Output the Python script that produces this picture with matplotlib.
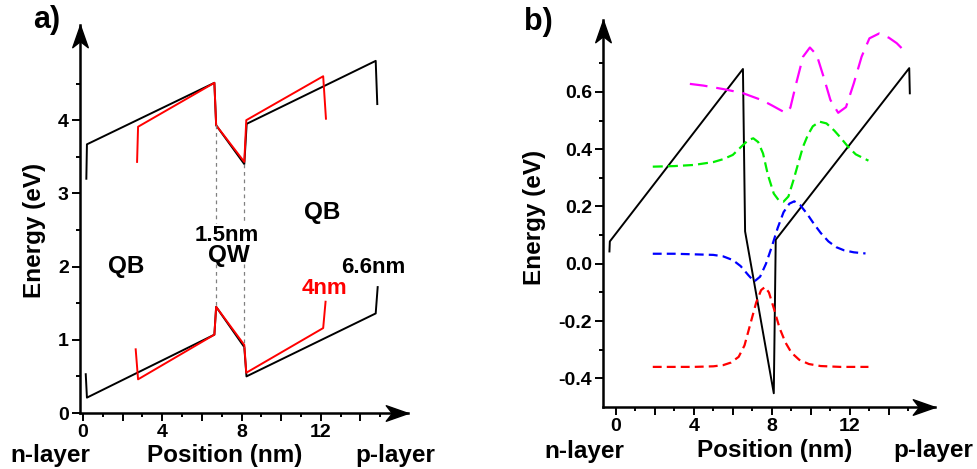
import matplotlib.pyplot as plt
from matplotlib.path import Path
from matplotlib.ticker import FixedLocator, FuncFormatter

plt.rcParams["font.family"] = ["Liberation Sans", "DejaVu Sans"]
plt.rcParams["font.weight"] = "bold"
plt.rcParams["axes.unicode_minus"] = False

# (a) band edges: 6.6 nm barriers (black) and 4 nm barriers (red)
cb_66_x = [0.17, 0.20, 6.63, 6.72, 8.14, 8.26, 14.77, 14.85]
cb_66_y = [3.20, 3.67, 4.51, 3.93, 3.40, 3.95, 4.81, 4.22]
vb_66_x = [0.14, 0.20, 6.63, 6.72, 8.14, 8.25, 14.77, 14.87]
vb_66_y = [0.53, 0.21, 1.07, 1.45, 0.90, 0.50, 1.36, 1.72]
cb_4_x = [2.73, 2.78, 6.63, 6.72, 8.14, 8.24, 12.12, 12.26]
cb_4_y = [3.43, 3.91, 4.51, 3.93, 3.43, 4.00, 4.60, 4.02]
vb_4_x = [2.66, 2.78, 6.63, 6.72, 8.14, 8.24, 12.12, 12.24]
vb_4_y = [0.87, 0.46, 1.07, 1.45, 0.93, 0.55, 1.16, 1.52]
qw_left, qw_right = 6.72, 8.14

# (b) conduction band profile and wavefunctions
band_x = [-0.32, -0.30, 6.52, 6.63, 8.10, 8.20, 15.04, 15.07]
band_y = [0.043, 0.078, 0.680, 0.113, -0.452, 0.084, 0.683, 0.595]

psi1_x = [1.9, 3.0, 4.0, 5.0, 5.5, 5.9, 6.3, 6.6, 6.9, 7.2, 7.45, 7.65,
          7.85, 8.1, 8.4, 8.7, 9.0, 9.4, 9.9, 10.5, 11.5, 12.95]
psi1_y = [-0.36, -0.36, -0.36, -0.358, -0.354, -0.345, -0.325, -0.285, -0.21,
          -0.135, -0.092, -0.081, -0.10, -0.155, -0.225, -0.275, -0.31, -0.335,
          -0.35, -0.357, -0.36, -0.36]

psi2_x = [1.9, 3.0, 4.0, 5.0, 5.5, 6.0, 6.4, 6.8, 7.1, 7.4, 7.7, 8.0, 8.3,
          8.6, 8.9, 9.15, 9.45, 9.8, 10.15, 10.5, 10.9, 11.3, 11.7, 12.2, 12.8]
psi2_y = [0.035, 0.035, 0.033, 0.031, 0.026, 0.013, -0.008, -0.040, -0.062,
          -0.045, 0.000, 0.060, 0.125, 0.180, 0.210, 0.218, 0.205, 0.175,
          0.140, 0.108, 0.078, 0.058, 0.047, 0.040, 0.036]

psi3_x = [1.9, 3.0, 4.0, 5.0, 5.5, 6.0, 6.5, 6.8, 7.05, 7.3, 7.55, 7.8, 8.1,
          8.35, 8.6, 8.85, 9.1, 9.35, 9.6, 9.85, 10.1, 10.45, 10.8, 11.2, 11.5,
          11.9, 12.3, 12.95]
psi3_y = [0.339, 0.341, 0.345, 0.355, 0.365, 0.380, 0.413, 0.432, 0.438, 0.425,
          0.385, 0.310, 0.245, 0.222, 0.217, 0.235, 0.290, 0.350, 0.409, 0.450,
          0.480, 0.496, 0.490, 0.465, 0.442, 0.409, 0.382, 0.360]

psi4_x = [3.8, 4.5, 5.5, 6.5, 7.5, 8.0, 8.4, 8.7, 8.95, 9.25, 9.6, 9.95, 10.3,
          10.65, 11.0, 11.4, 11.8, 12.2, 12.6, 13.0, 13.5, 14.0, 14.4, 14.75]
psi4_y = [0.628, 0.622, 0.610, 0.596, 0.571, 0.553, 0.538, 0.527, 0.545, 0.630,
          0.723, 0.755, 0.729, 0.653, 0.572, 0.527, 0.547, 0.630, 0.723, 0.787,
          0.804, 0.789, 0.770, 0.746]

W, H = 977, 469
fig = plt.figure(figsize=(W / 100, H / 100), dpi=100)


def px_box(left, bottom, right, top):
    return [left / W, 1 - bottom / H, (right - left) / W, (bottom - top) / H]


def px_text(x, y, s, **kw):
    fig.text(x / W, 1 - y / H, s, ha="center", va="center", **kw)


# stealth-style arrowheads, tip at the marker position
ARROW_RIGHT = Path([(0, 0), (-2, 0.7), (-1.45, 0), (-2, -0.7), (0, 0)], closed=True)
ARROW_UP = Path([(0, 0), (0.7, -2), (0, -1.45), (-0.7, -2), (0, 0)], closed=True)


def style_axes(ax, xmajor, xminor, ymajor, yminor, yfmt):
    for side in ("top", "right"):
        ax.spines[side].set_visible(False)
    for side in ("left", "bottom"):
        ax.spines[side].set_linewidth(1.8)
    ax.plot(1, 0, marker=ARROW_RIGHT, ms=32, color="k", transform=ax.transAxes, clip_on=False)
    ax.plot(0, 1, marker=ARROW_UP, ms=32, color="k", transform=ax.transAxes, clip_on=False)
    ax.xaxis.set_major_locator(FixedLocator(xmajor))
    ax.xaxis.set_minor_locator(FixedLocator(xminor))
    ax.xaxis.set_major_formatter(FuncFormatter(lambda v, p: f"{v:.0f}" if round(v) % 4 == 0 else ""))
    ax.yaxis.set_major_locator(FixedLocator(ymajor))
    ax.yaxis.set_minor_locator(FixedLocator(yminor))
    ax.yaxis.set_major_formatter(FuncFormatter(lambda v, p: yfmt.format(v)))
    ax.tick_params(which="major", direction="out", length=5.5, width=1.4, labelsize=14, pad=2.5)
    ax.tick_params(which="minor", direction="out", length=3, width=1.4)


# ---- panel a ----
ax_a = fig.add_axes(px_box(80, 413, 408, 25))
ax_a.plot(cb_66_x, cb_66_y, color="black", lw=1.4)
ax_a.plot(vb_66_x, vb_66_y, color="black", lw=1.4)
ax_a.plot(cb_4_x, cb_4_y, color="red", lw=1.4)
ax_a.plot(vb_4_x, vb_4_y, color="red", lw=1.4)
for xq, top, bot in ((qw_left, cb_4_y[3], vb_4_y[3]), (qw_right, cb_66_y[4], vb_66_y[4])):
    ax_a.plot([xq, xq], [top, 2.6], color="gray", lw=0.9, ls=(0, (3, 3)))
    ax_a.plot([xq, xq], [2.03, bot], color="gray", lw=0.9, ls=(0, (3, 3)))
ax_a.set_xlim(-0.15, 16.4)
ax_a.set_ylim(0, 5.3)
style_axes(ax_a, range(0, 16, 2), range(1, 16, 2), range(0, 5), [0.5, 1.5, 2.5, 3.5, 4.5], "{:.0f}")

ax_a.text(2.19, 2.0, "QB", fontsize=17.5, ha="center", va="center")
ax_a.text(12.07, 2.74, "QB", fontsize=17.5, ha="center", va="center")
ax_a.text(7.26, 2.42, "1.5nm", fontsize=16, ha="center", va="center")
ax_a.text(7.34, 2.15, "QW", fontsize=17.5, ha="center", va="center")
ax_a.text(14.67, 1.99, "6.6nm", fontsize=16, ha="center", va="center")
ax_a.text(12.17, 1.70, "4nm", fontsize=16, ha="center", va="center", color="red")

# ---- panel b ----
ax_b = fig.add_axes(px_box(603, 407, 935, 20))
ax_b.plot(band_x, band_y, color="black", lw=1.4)
ax_b.plot(psi1_x, psi1_y, color="red", lw=1.6, ls=(0, (4, 2.3)))
ax_b.plot(psi2_x, psi2_y, color="blue", lw=1.6, ls=(0, (4, 2.3)))
ax_b.plot(psi3_x, psi3_y, color="#00ee00", lw=1.6, ls=(0, (4.5, 2.3)))
ax_b.plot(psi4_x, psi4_y, color="magenta", lw=1.6, ls=(0, (8, 4)))
ax_b.set_xlim(-0.65, 16.36)
ax_b.set_ylim(-0.5, 0.851)
style_axes(ax_b, range(0, 16, 2), range(1, 16, 2),
           [-0.4, -0.2, 0.0, 0.2, 0.4, 0.6], [-0.3, -0.1, 0.1, 0.3, 0.5, 0.7], "{:.1f}")

# panel letters and axis captions
px_text(47, 20, "a)", fontsize=22)
px_text(538, 22, "b)", fontsize=22)
px_text(35, 230, "Energy (eV)", fontsize=17.5, rotation=90)
px_text(535, 217, "Energy (eV)", fontsize=17.5, rotation=90)
px_text(50, 455, "n-layer", fontsize=17.5)
px_text(225, 455, "Position (nm)", fontsize=17.5)
px_text(395, 455, "p-layer", fontsize=17.5)
px_text(584, 451, "n-layer", fontsize=17.5)
px_text(775, 450, "Position (nm)", fontsize=17.5)
px_text(933, 450, "p-layer", fontsize=17.5)

fig.savefig("out.png", dpi=100)
